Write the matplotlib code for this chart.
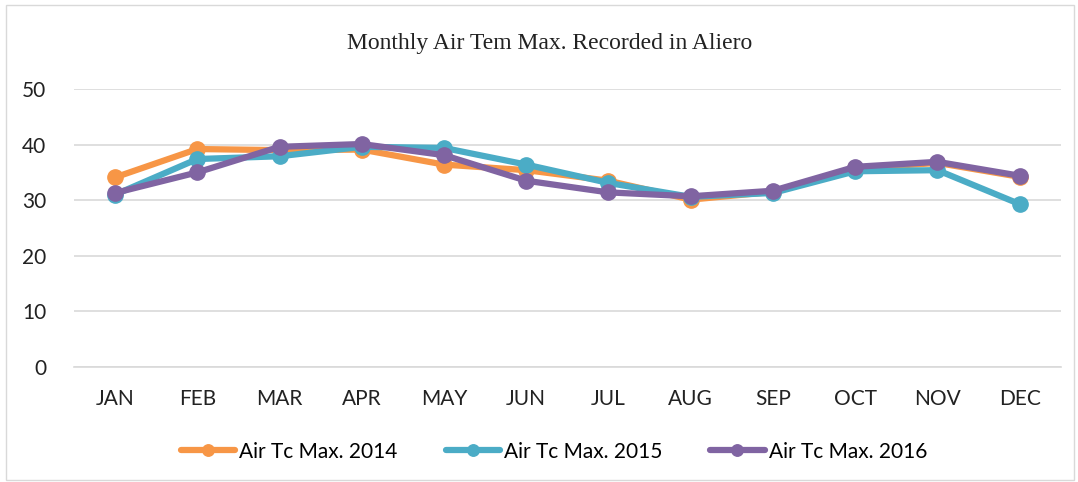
import numpy as np
import matplotlib.pyplot as plt

months = ["JAN", "FEB", "MAR", "APR", "MAY", "JUN", "JUL", "AUG", "SEP", "OCT", "NOV", "DEC"]
t2014 = [34.1, 39.2, 39.0, 39.1, 36.4, 35.4, 33.5, 30.1, 31.5, 35.7, 36.7, 34.2]
t2015 = [31.0, 37.4, 37.9, 39.6, 39.4, 36.4, 33.1, 30.6, 31.3, 35.2, 35.4, 29.3]
t2016 = [31.3, 35.0, 39.6, 40.1, 38.1, 33.5, 31.4, 30.7, 31.7, 36.0, 36.9, 34.4]
ticks_y = [0, 10, 20, 30, 40, 50]

series = [
    ("Air Tc Max. 2014", t2014, "#F79646"),
    ("Air Tc Max. 2015", t2015, "#4BACC6"),
    ("Air Tc Max. 2016", t2016, "#8064A2"),
]

sans = ["Lato", "DejaVu Sans"]

fig = plt.figure(figsize=(10.78, 4.82), dpi=100)
ax = fig.add_axes([0.0686, 0.2386, 0.9154, 0.5768])

x = np.arange(len(months))
for name, vals, col in series:
    ax.plot(x, vals, color=col, lw=4.5, marker="o", ms=11, label=name,
            solid_capstyle="round", solid_joinstyle="round")

ax.set_xlim(-0.5, len(months) - 0.5)
ax.set_ylim(0, 50)
ax.set_yticks(ticks_y)
ax.set_xticks(x)
ax.set_xticklabels(months)
ax.grid(axis="y", color="#D9D9D9", lw=1.2)
ax.set_axisbelow(True)
for s in ["top", "right", "left"]:
    ax.spines[s].set_visible(False)
ax.spines["bottom"].set_color("#D9D9D9")
ax.spines["bottom"].set_linewidth(1.2)
ax.tick_params(length=0, labelsize=15, colors="#222222")
ax.tick_params(axis="x", pad=16)
ax.tick_params(axis="y", pad=20)
for lab in ax.get_xticklabels() + ax.get_yticklabels():
    lab.set_family(sans)

fig.text(0.51, 0.91, "Monthly Air Tem Max. Recorded in Aliero", ha="center", va="center",
         fontsize=17, family="Liberation Serif", color="#222222")

leg = fig.legend(loc="center", bbox_to_anchor=(0.514, 0.063), ncol=3, frameon=False,
                 prop={"family": sans, "size": 15}, markerscale=0.75,
                 handlelength=2.6, columnspacing=2.3, handletextpad=0.2)

fig.patches.append(plt.Rectangle((0.006, 0.004), 0.99, 0.985, transform=fig.transFigure,
                                 fill=False, edgecolor="#D9D9D9", lw=1))

fig.savefig("out.png", dpi=100)
